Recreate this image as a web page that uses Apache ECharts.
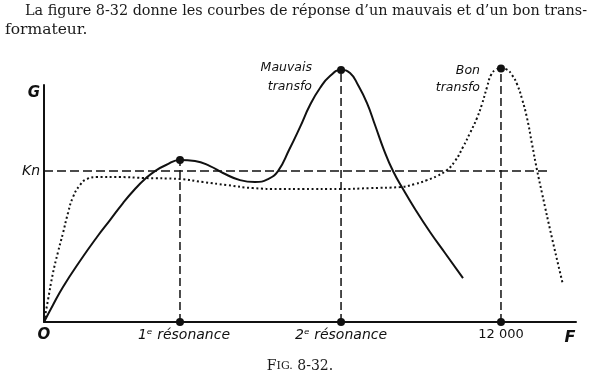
<!DOCTYPE html>
<html>
<head>
<meta charset="utf-8">
<script src="https://cdn.jsdelivr.net/npm/echarts@6/dist/echarts.min.js"></script>
<style>
  html, body { margin: 0; padding: 0; background: #ffffff; }
  #chart { width: 600px; height: 384px; }
</style>
</head>
<body>
<div id="chart"></div>
<script>
// Frequency F (Hz) and gain G (in units of Kn)
const mauvaisF = [0, 236, 499, 945, 1392, 1733, 2075, 2390, 2652, 2915, 3204, 3571, 3965, 4359, 4701, 5147, 5541, 5882, 6145, 6434, 6723, 6985, 7248, 7510, 7800, 8036, 8246, 8482, 8692, 8928, 9165, 9427, 9742, 10136, 10530, 11003];
const mauvaisG = [0, 0.113, 0.232, 0.404, 0.563, 0.675, 0.788, 0.881, 0.947, 1.0, 1.040, 1.073, 1.066, 1.033, 0.987, 0.940, 0.927, 0.947, 1.0, 1.139, 1.291, 1.437, 1.550, 1.629, 1.670, 1.649, 1.570, 1.450, 1.305, 1.139, 1.0, 0.881, 0.748, 0.596, 0.457, 0.291];

const bonF = [0, 105, 236, 368, 499, 630, 762, 945, 1129, 1392, 1996, 2600, 3571, 4175, 4806, 5488, 6197, 6801, 7773, 8561, 9349, 9742, 10058, 10320, 10583, 10793, 11003, 11187, 11370, 11502, 11633, 11738, 11870, 12000, 12158, 12290, 12421, 12553, 12684, 12815, 12946, 13077, 13340, 13629];
const bonG = [0, 0.146, 0.325, 0.464, 0.589, 0.722, 0.828, 0.907, 0.947, 0.960, 0.960, 0.954, 0.947, 0.927, 0.907, 0.887, 0.881, 0.881, 0.881, 0.887, 0.894, 0.914, 0.940, 0.967, 1.007, 1.066, 1.159, 1.252, 1.351, 1.444, 1.556, 1.636, 1.672, 1.680, 1.672, 1.636, 1.576, 1.477, 1.351, 1.179, 1.007, 0.854, 0.556, 0.245];

// Marked peaks: 1st resonance, 2nd resonance, 12 000 Hz
const markF = [3571, 7800, 12000];
const markG = [1.073, 1.670, 1.680];
const tickValues = [0, 3571, 7800, 12000];
const tickLabels = ['O', '1ᵉ résonance', '2ᵉ résonance', '12 000'];

const knValue = 1;
const knEndF = 13235;
const axisMaxF = 13970;
const axisMaxG = 1.57;

const chart = echarts.init(document.getElementById('chart'), null, { renderer: 'canvas' });

const ink = '#111111';
const sans = '"DejaVu Sans", sans-serif';
const serif = '"DejaVu Serif", serif';

const zip = (xs, ys) => xs.map((x, i) => [x, ys[i]]);

const verticals = markF.map((f, i) => ({
  type: 'line',
  data: [[f, 0], [f, markG[i]]],
  symbol: 'none',
  clip: false,
  silent: true,
  lineStyle: { color: ink, width: 1.5, type: [8, 4] },
  z: 2
}));

const option = {
  backgroundColor: '#ffffff',
  animation: false,
  grid: { left: 44, right: 24, top: 85, bottom: 62, containLabel: false },
  xAxis: {
    type: 'value',
    min: 0,
    max: axisMaxF,
    splitLine: { show: false },
    axisTick: { show: false },
    axisLine: { show: true, onZero: false, lineStyle: { color: ink, width: 2 } },
    axisLabel: {
      customValues: tickValues,
      margin: 6,
      color: ink,
      formatter: function (v) {
        const i = tickValues.indexOf(v);
        if (i === 0) return '{o|' + tickLabels[0] + '}';
        if (i === 3) return '{n|' + tickLabels[3] + '}';
        if (i === 1) return '{t1|' + tickLabels[i] + '}';
        return '{t|' + tickLabels[i] + '}';
      },
      rich: {
        o: { fontFamily: sans, fontSize: 15, fontStyle: 'italic', fontWeight: 'bold', color: ink },
        t: { fontFamily: sans, fontSize: 14, fontStyle: 'italic', color: ink },
        t1: { fontFamily: sans, fontSize: 14, fontStyle: 'italic', color: ink, padding: [0, 0, 0, 8] },
        n: { fontFamily: sans, fontSize: 13, color: ink }
      }
    }
  },
  yAxis: {
    type: 'value',
    min: 0,
    max: axisMaxG,
    splitLine: { show: false },
    axisTick: { show: false },
    axisLine: { show: true, onZero: false, lineStyle: { color: ink, width: 2 } },
    axisLabel: {
      customValues: [knValue],
      margin: 4,
      formatter: function () { return 'Kn'; },
      fontFamily: sans,
      fontSize: 14,
      fontStyle: 'italic',
      color: ink
    }
  },
  series: [
    {
      name: 'Kn',
      type: 'line',
      data: [[0, knValue], [knEndF, knValue]],
      symbol: 'none',
      silent: true,
      clip: false,
      lineStyle: { color: ink, width: 1.5, type: [9, 4] },
      z: 2
    },
    ...verticals,
    {
      name: 'Mauvais transfo',
      type: 'line',
      data: zip(mauvaisF, mauvaisG),
      smooth: 0.5,
      symbol: 'none',
      clip: false,
      lineStyle: { color: ink, width: 2 },
      z: 3
    },
    {
      name: 'Bon transfo',
      type: 'line',
      data: zip(bonF, bonG),
      smooth: 0.5,
      symbol: 'none',
      clip: false,
      lineStyle: { color: ink, width: 2, type: [2, 2.6], cap: 'butt' },
      z: 3
    },
    {
      name: 'points',
      type: 'scatter',
      data: zip(markF, markG).concat(markF.map(f => [f, 0])),
      symbolSize: 8,
      clip: false,
      itemStyle: { color: ink, opacity: 1 },
      z: 5
    }
  ],
  graphic: [
    { type: 'text', x: 25, y: 4, style: { text: 'La figure 8-32 donne les courbes de réponse d\u2019un mauvais et d\u2019un bon trans-', font: '14.4px ' + serif, fill: '#1a1a1a' } },
    { type: 'text', x: 5, y: 22, style: { text: 'formateur.', font: '15.5px ' + serif, fill: '#1a1a1a' } },
    { type: 'text', x: 34, y: 93, style: { text: 'G', font: 'italic bold 15px ' + sans, fill: ink, align: 'center', verticalAlign: 'middle' } },
    { type: 'text', x: 570, y: 338, style: { text: 'F', font: 'italic bold 16px ' + sans, fill: ink, align: 'center', verticalAlign: 'middle' } },
    { type: 'text', x: 312, y: 58, style: { text: 'Mauvais\ntransfo', font: 'italic 12.5px ' + sans, lineHeight: 19, fill: ink, align: 'right', verticalAlign: 'top' } },
    { type: 'text', x: 480, y: 62, style: { text: 'Bon\ntransfo', font: 'italic 12.5px ' + sans, lineHeight: 17, fill: ink, align: 'right', verticalAlign: 'top' } },
    { type: 'text', x: 300, y: 366, style: {
        text: '{a|F}{b|IG.}{a| 8-32.}',
        align: 'center', verticalAlign: 'middle',
        rich: {
          a: { fontFamily: serif, fontSize: 14, fill: '#1a1a1a' },
          b: { fontFamily: serif, fontSize: 11, fill: '#1a1a1a' }
        }
      } }
  ]
};

chart.setOption(option);
</script>
</body>
</html>
